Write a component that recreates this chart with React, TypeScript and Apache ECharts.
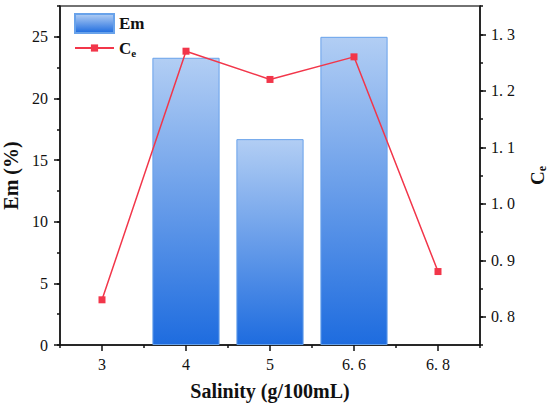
import React, { useEffect, useRef } from "react";
import * as echarts from "echarts";

const categories = ["3", "4", "5", "6.6", "6.8"];
const emValues: (number | null)[] = [null, 23.3, 16.7, 25.0, null];
const ceValues = [0.83, 1.27, 1.22, 1.26, 0.88];
const leftTicks = { min: 0, max: 27.5, interval: 5, minor: 2.5 };
const rightTicks = { min: 0.75, max: 1.35, minor: 0.05 };

const FONT = "Liberation Serif";

const fmtDot = (v: string | number) => String(v).replace(".", ". ");

export default function App() {
  const ref = useRef<HTMLDivElement>(null);
  useEffect(() => {
    document.body.style.margin = "0";
    const chart = echarts.init(ref.current!, null, { renderer: "svg" });
    const axisLine = { show: true, lineStyle: { color: "#111", width: 1.5 } };
    const labelStyle = { color: "#111", fontSize: 16, fontFamily: FONT, fontWeight: "normal" as const };
    const nameStyle = { color: "#111", fontSize: 20, fontWeight: "bold" as const, fontFamily: FONT };
    const subRich = (big: number, small: number, pad: number) => ({
      a: { fontSize: big, fontWeight: "bold", fontFamily: FONT, color: "#111" },
      b: { fontSize: small, fontWeight: "bold", fontFamily: FONT, color: "#111", padding: [pad, 0, 0, 0] },
    });
    chart.setOption({
      animation: false,
      textStyle: { fontFamily: FONT },
      grid: {
        left: 60,
        right: 70,
        top: 6,
        bottom: 65,
        show: true,
        borderColor: "#444",
        borderWidth: 1.5,
        outerBoundsMode: "none",
      },
      legend: [
        {
          data: [{ name: "Em", icon: "rect" }],
          left: 74,
          top: 13,
          padding: 0,
          itemWidth: 39,
          itemHeight: 19,
          textStyle: { ...nameStyle, fontSize: 17 },
        },
        {
          data: ["Ce"],
          left: 74,
          top: 39.5,
          padding: 0,
          itemWidth: 39,
          itemHeight: 9,
          formatter: () => "{a|C}{b|e}",
          textStyle: { rich: subRich(17, 11, 9) },
        },
      ],
      xAxis: [
        {
          type: "category",
          data: categories,
          position: "bottom",
          axisLine,
          axisTick: { show: true, alignWithLabel: true, length: 6, lineStyle: { color: "#111", width: 1.5 } },
          axisLabel: { ...labelStyle, margin: 11, formatter: (v: string) => fmtDot(v) },
          name: "Salinity (g/100mL)",
          nameLocation: "middle",
          nameGap: 36,
          nameTextStyle: nameStyle,
          splitLine: { show: false },
        },
        {
          type: "category",
          data: categories,
          position: "bottom",
          axisLine: { show: false },
          axisTick: { show: true, alignWithLabel: false, length: 3, lineStyle: { color: "#111", width: 1.5 } },
          axisLabel: { show: false },
          splitLine: { show: false },
        },
      ],
      yAxis: [
        {
          type: "value",
          position: "left",
          min: leftTicks.min,
          max: leftTicks.max,
          interval: leftTicks.interval,
          axisLine,
          axisTick: { show: true, length: 6, lineStyle: { color: "#111", width: 1.5 } },
          axisLabel: { ...labelStyle, margin: 12, showMaxLabel: false },
          splitLine: { show: false },
          name: "Em (%)",
          nameLocation: "middle",
          nameRotate: 90,
          nameGap: 36,
          nameTextStyle: nameStyle,
        },
        {
          type: "value",
          position: "right",
          min: rightTicks.min,
          max: rightTicks.max,
          splitNumber: 6,
          axisLine,
          axisTick: { show: true, length: 6, lineStyle: { color: "#111", width: 1.5 } },
          axisLabel: {
            ...labelStyle,
            margin: 11,
            showMinLabel: false,
            showMaxLabel: false,
            formatter: (v: number) => fmtDot(v.toFixed(1)),
          },
          splitLine: { show: false },
          name: "{a|C}{b|e}",
          nameLocation: "middle",
          nameRotate: 90,
          nameGap: 46,
          nameTextStyle: { rich: subRich(19, 12, 10) },
        },
        {
          type: "value",
          position: "left",
          min: leftTicks.min,
          max: leftTicks.max,
          interval: leftTicks.minor,
          axisLine: { show: false },
          axisTick: { show: true, length: 3, lineStyle: { color: "#111", width: 1.5 } },
          axisLabel: { show: false },
          splitLine: { show: false },
        },
        {
          type: "value",
          position: "right",
          min: rightTicks.min,
          max: rightTicks.max,
          interval: rightTicks.minor,
          axisLine: { show: false },
          axisTick: { show: true, length: 3, lineStyle: { color: "#111", width: 1.5 } },
          axisLabel: { show: false },
          splitLine: { show: false },
        },
      ],
      series: [
        {
          name: "Em",
          type: "bar",
          xAxisIndex: 0,
          yAxisIndex: 0,
          data: emValues,
          barWidth: "80%",
          itemStyle: {
            color: new echarts.graphic.LinearGradient(0, 0, 0, 1, [
              { offset: 0, color: "#b2cef4" },
              { offset: 1, color: "#1e6cdf" },
            ]),
            borderColor: "#68a2ea",
            borderWidth: 1,
          },
        },
        {
          name: "Ce",
          type: "line",
          xAxisIndex: 0,
          yAxisIndex: 1,
          data: ceValues,
          symbol: "rect",
          symbolSize: 7,
          lineStyle: { color: "#f2364a", width: 1.5 },
          itemStyle: { color: "#f2364a" },
          z: 5,
        },
      ],
    });
    return () => chart.dispose();
  }, []);
  return (
    <div
      ref={ref}
      style={{ position: "absolute", left: 0, top: 0, width: 550, height: 410, background: "#fff" }}
    />
  );
}
